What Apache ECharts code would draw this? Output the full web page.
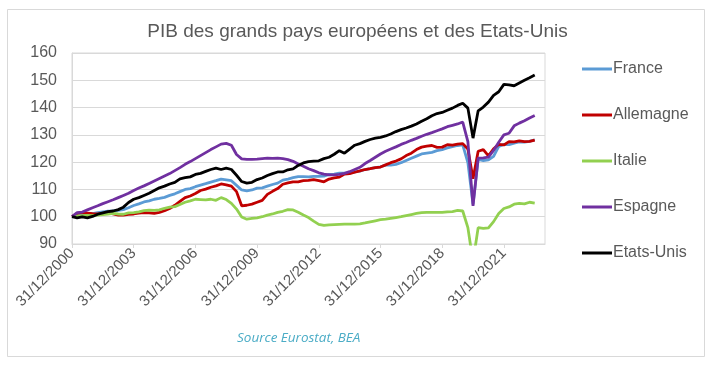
<!DOCTYPE html>
<html>
<head>
<meta charset="utf-8">
<script src="https://cdn.jsdelivr.net/npm/echarts@6/dist/echarts.min.js"></script>
<style>
html,body{margin:0;padding:0;background:#fff;}
#chart{width:715px;height:366px;}
</style>
</head>
<body>
<div id="chart"></div>
<script>
// Quarter-end label parts (categories: 31/12/2000 ... 31/12/2023, quarterly)
var quarterEnds = ['31/03', '30/06', '30/09', '31/12'];
var firstLabel = '31/12/2000';
var lastYear = 2023;

var seriesNames = ['France', 'Allemagne', 'Italie', 'Espagne', 'Etats-Unis'];

var france = [100,
  100.5, 100.8, 101.1, 101.1,
  101.5, 101.8, 102.0, 102.1,
  102.3, 102.6, 103.3, 104.1,
  104.7, 105.4, 105.8, 106.4,
  106.7, 107.1, 107.8, 108.4,
  109.2, 110.0, 110.3, 111.0,
  111.6, 112.1, 112.7, 113.2,
  113.8, 113.5, 113.2, 111.5,
  109.8, 109.5, 109.8, 110.5,
  110.6, 111.2, 111.8, 112.3,
  113.4, 113.8, 114.3, 114.7,
  114.7, 114.6, 114.8, 114.8,
  114.9, 115.5, 115.6, 116.0,
  116.0, 116.0, 116.4, 116.7,
  117.3, 117.6, 118.0, 118.3,
  118.9, 118.9, 119.2, 119.8,
  120.6, 121.4, 122.2, 123.0,
  123.3, 123.6, 124.2, 124.6,
  125.2, 125.7, 126.1, 126.3,
  119.8, 104.5, 121.0, 120.6,
  120.8, 122.1, 125.8, 126.5,
  126.4, 127.0, 127.4, 127.3,
  127.6, 128.2, null, null];

var allemagne = [100,
  101.2, 101.5, 101.3, 101.1,
  101.0, 101.2, 101.3, 101.0,
  100.6, 100.6, 100.9, 101.0,
  101.3, 101.5, 101.4, 101.2,
  101.6, 102.2, 103.0, 104.2,
  105.6, 107.0, 107.6, 108.5,
  109.6, 110.1, 110.8, 111.3,
  112.0, 111.7, 111.2, 109.2,
  104.0, 104.2, 104.6, 105.3,
  106.0, 108.2, 109.3, 110.3,
  111.9, 112.4, 112.8, 112.8,
  113.2, 113.3, 113.6, 113.2,
  112.8, 113.8, 114.2, 114.5,
  115.6, 115.8, 116.3, 116.8,
  117.3, 117.6, 118.0, 118.2,
  119.0, 119.8, 120.4, 121.2,
  122.4, 123.3, 124.6, 125.5,
  125.9, 126.1, 125.4, 125.5,
  126.4, 126.2, 126.6, 126.8,
  124.8, 113.9, 124.0, 124.6,
  122.3, 124.9, 126.5, 126.3,
  127.5, 127.4, 127.8, 127.5,
  127.6, 128.1, null, null];

var italie = [100,
  100.2, 100.4, 100.5, 100.4,
  100.6, 100.8, 101.0, 101.2,
  101.0, 100.9, 101.4, 101.5,
  101.8, 102.2, 102.4, 102.3,
  102.5, 103.1, 103.5, 103.7,
  104.5, 105.3, 105.8, 106.4,
  106.3, 106.2, 106.4, 106.0,
  107.0, 106.3, 104.9, 102.8,
  99.9, 99.1, 99.4, 99.6,
  100.0, 100.6, 101.0, 101.6,
  102.0, 102.6, 102.5, 101.6,
  100.6, 99.7, 98.4, 97.2,
  96.8, 97.0, 97.1, 97.2,
  97.3, 97.3, 97.3, 97.4,
  97.7, 98.1, 98.5, 98.9,
  99.1, 99.4, 99.7, 100.0,
  100.4, 100.8, 101.2, 101.5,
  101.6, 101.6, 101.6, 101.6,
  101.8, 101.9, 102.3, 102.1,
  96.0, 83.5, 96.0, 95.7,
  95.9, 98.2, 101.2, 103.0,
  103.6, 104.6, 104.9, 104.7,
  105.3, 105.0, null, null];

var espagne = [100,
  101.5, 101.7, 102.5, 103.3,
  104.0, 104.8, 105.5, 106.2,
  107.0, 107.8, 108.6, 109.6,
  110.5, 111.3, 112.2, 113.1,
  114.0, 114.9, 115.8, 116.9,
  118.0, 119.2, 120.2, 121.3,
  122.4, 123.5, 124.6, 125.6,
  126.6, 126.9, 126.2, 122.8,
  121.2, 121.0, 121.0, 121.1,
  121.3, 121.5, 121.4, 121.5,
  121.3, 120.9, 120.3, 119.3,
  118.5, 117.6, 116.9, 116.1,
  115.6, 115.3, 115.3, 115.5,
  115.9, 116.5, 117.3, 118.1,
  119.5, 120.6, 121.8, 123.0,
  124.0, 124.8, 125.6, 126.5,
  127.2, 128.0, 128.7, 129.5,
  130.2, 130.8, 131.5, 132.2,
  133.0, 133.5, 134.0, 134.7,
  127.5, 104.0, 121.5, 121.6,
  121.8, 124.3, 127.3, 130.0,
  130.6, 133.3, 134.3, 135.2,
  136.2, 137.1, null, null];

var etatsUnis = [100,
  99.6, 99.9, 99.6, 100.1,
  100.9, 101.4, 101.9, 102.1,
  102.6, 103.5, 105.2, 106.4,
  107.0, 107.8, 108.6, 109.6,
  110.6, 111.2, 112.0, 112.6,
  113.9, 114.3, 114.6, 115.5,
  115.9, 116.6, 117.3, 117.8,
  117.3, 117.8, 117.3, 115.2,
  112.9, 112.3, 112.6, 113.6,
  114.2, 115.1, 115.8, 116.4,
  116.4, 117.2, 117.5, 118.8,
  119.7, 120.2, 120.4, 120.5,
  121.3, 121.8, 122.9, 124.2,
  123.3, 124.8, 126.2, 126.8,
  127.6, 128.3, 128.8, 129.1,
  129.6, 130.3, 131.2, 131.9,
  132.5, 133.2, 134.0, 135.0,
  135.9, 137.0, 137.8, 138.2,
  139.0, 139.8, 140.8, 141.6,
  139.8, 128.8, 138.8, 140.2,
  142.0, 144.5, 145.8, 148.5,
  148.3, 148.0, 149.0, 150.0,
  150.9, 151.9, null, null];

var seriesColors = ['#5b9bd5', '#c00000', '#92d050', '#7030a0', '#000000'];

// build category labels
var categories = [firstLabel];
for (var y = 2001; y <= lastYear; y++) {
  for (var q = 0; q < 4; q++) categories.push(quarterEnds[q] + '/' + y);
}

var allData = [france, allemagne, italie, espagne, etatsUnis];
var textColor = '#595959';
var fontFam = '"Liberation Sans", Arial, sans-serif';

var chart = echarts.init(document.getElementById('chart'), null, {renderer: 'canvas'});
chart.setOption({
  animation: false,
  backgroundColor: '#ffffff',
  title: {
    text: 'PIB des grands pays européens et des Etats-Unis',
    left: 'center',
    top: 17,
    textStyle: {fontFamily: fontFam, fontSize: 19, fontWeight: 'normal', color: textColor}
  },
  grid: {
    left: 72, top: 53, right: 170, bottom: 122,
    show: true, borderColor: '#d9d9d9', borderWidth: 1
  },
  legend: {
    orient: 'vertical',
    left: 577,
    top: 56,
    itemWidth: 30,
    itemHeight: 3,
    itemGap: 30,
    icon: 'rect',
    data: seriesNames,
    textStyle: {fontFamily: fontFam, fontSize: 16, color: textColor, lineHeight: 16, padding: [0, 0, 0, -4]}
  },
  xAxis: {
    type: 'category',
    data: categories,
    boundaryGap: false,
    axisLine: {show: true, lineStyle: {color: '#d9d9d9', width: 1}},
    axisTick: {show: true, interval: 11, length: 4, lineStyle: {color: '#d9d9d9'}},
    axisLabel: {
      interval: 11, rotate: 45, margin: 7,
      fontFamily: fontFam, fontSize: 15, color: textColor
    },
    splitLine: {show: false}
  },
  yAxis: {
    type: 'value',
    min: 90, max: 160, interval: 10,
    axisLine: {show: true, lineStyle: {color: '#d9d9d9', width: 1}},
    axisTick: {show: false},
    axisLabel: {margin: 15, fontFamily: fontFam, fontSize: 16, color: textColor},
    splitLine: {show: true, lineStyle: {color: '#d9d9d9', width: 1}}
  },
  series: seriesNames.map(function (n, k) {
    return {
      name: n,
      type: 'line',
      data: allData[k],
      showSymbol: false,
      symbol: 'none',
      clip: true,
      connectNulls: false,
      lineStyle: {color: seriesColors[k], width: 2.8},
      itemStyle: {color: seriesColors[k]}
    };
  }),
  graphic: [
    {
      type: 'rect',
      shape: {x: 7.5, y: 9.5, width: 697, height: 347},
      style: {fill: 'none', stroke: '#d9d9d9', lineWidth: 1},
      silent: true
    },
    {
      type: 'text',
      left: 237,
      top: 331,
      style: {
        text: 'Source Eurostat, BEA',
        fill: '#4bacc6',
        fontFamily: '"Open Sans", "Noto Sans", sans-serif',
        fontStyle: 'italic',
        fontSize: 13.5
      }
    }
  ]
});
</script>
</body>
</html>
